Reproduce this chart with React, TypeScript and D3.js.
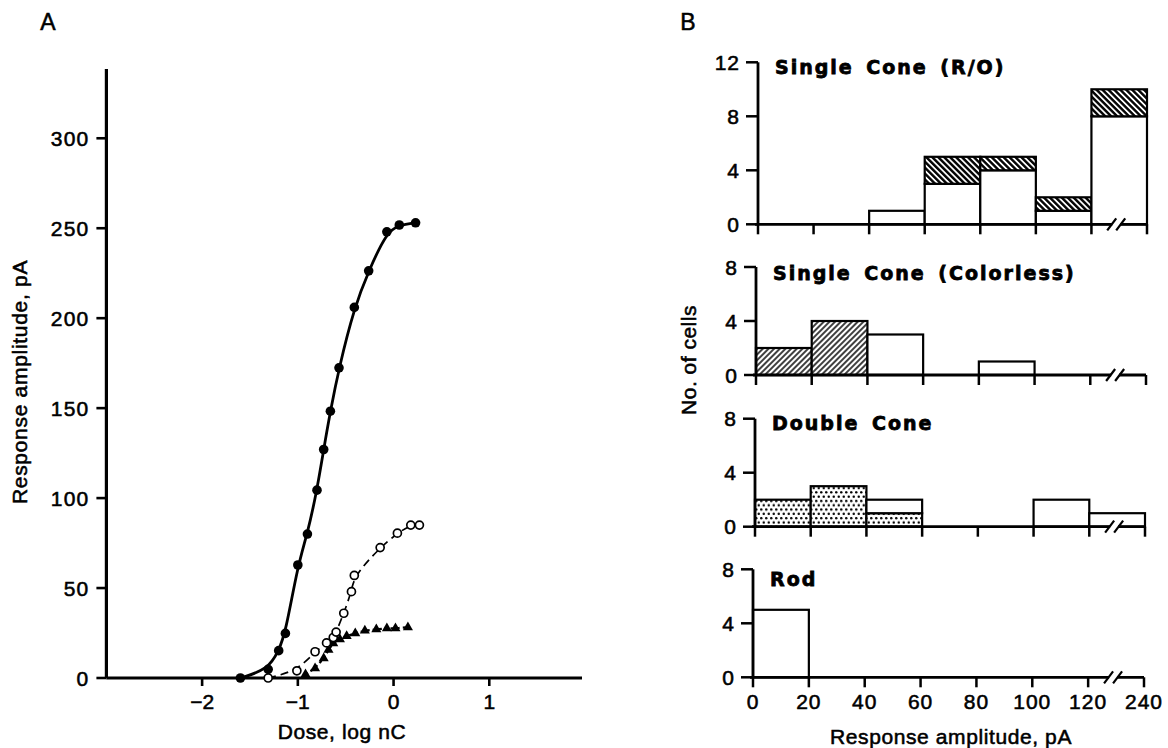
import * as d3 from 'd3'

// Panel A: dose-response points (log nC, pA)
const filledDose = [-1.6, -1.31, -1.2, -1.13, -1.0, -0.9, -0.8, -0.73, -0.66, -0.57, -0.41, -0.26, -0.07, 0.06, 0.23]
const filledResp = [0, 4.8, 15.2, 24.8, 62.8, 80, 104.4, 127, 148.3, 172.4, 206, 226.3, 248, 251.8, 253]
const openDose = [-1.31, -1.01, -0.82, -0.7, -0.63, -0.6, -0.52, -0.44, -0.41, -0.14, 0.04, 0.18, 0.27]
const openResp = [0, 4, 14.6, 19.5, 22.5, 25.5, 36, 48, 57, 72.5, 80.5, 85, 85]
const triDose = [-0.92, -0.82, -0.73, -0.68, -0.63, -0.56, -0.49, -0.4, -0.3, -0.18, -0.07, 0.02, 0.15]
const triResp = [2, 5.4, 10.9, 15.6, 19.3, 21.5, 23.3, 24.8, 26.3, 27, 27.6, 27.6, 28.2]
const doseTicks = [-2, -1, 0, 1]
const respTicks = [0, 50, 100, 150, 200, 250, 300]

// Panel B: histograms, bins 0-20 ... 120-240
const binLabels = ['0', '20', '40', '60', '80', '100', '120', '240']
const roOpen = [0, 0, 1, 3, 4, 1, 8]
const roHatched = [0, 0, 0, 2, 1, 1, 2]
const colorlessHatched = [2, 4, 0, 0, 0, 0, 0]
const colorlessOpen = [0, 0, 3, 0, 1, 0, 0]
const doubleDotted = [2, 3, 1, 0, 0, 0, 0]
const doubleOpen = [0, 0, 1, 0, 0, 2, 1]
const rodOpen = [5, 0, 0, 0, 0, 0, 0]

const SANS = 'Liberation Sans, Arial, Helvetica, sans-serif'
const BOLD = 'DejaVu Sans, Verdana, sans-serif'
// scanned print looks a bit heavier than plain regular
const ink = {stroke: '#000', strokeWidth: 0.55}

const panels = [
  {title: 'Single Cone (R/O)', layers: [{v: roOpen, fill: '#fff'}, {v: roHatched, fill: 'url(#hatchBack)'}],
    yMax: 12, yTicks: [0, 4, 8, 12], base: 224.3, x0: 758, x1: 1147, ty: 67},
  {title: 'Single Cone (Colorless)', layers: [{v: colorlessHatched, fill: 'url(#hatchFwd)'}, {v: colorlessOpen, fill: '#fff'}],
    yMax: 8, yTicks: [0, 4, 8], base: 375, x0: 756, x1: 1146, ty: 273},
  {title: 'Double Cone', layers: [{v: doubleDotted, fill: 'url(#dots)'}, {v: doubleOpen, fill: '#fff'}],
    yMax: 8, yTicks: [0, 4, 8], base: 526.7, x0: 755, x1: 1145, ty: 423},
  {title: 'Rod', layers: [{v: rodOpen, fill: '#fff'}],
    yMax: 8, yTicks: [0, 4, 8], base: 677.3, x0: 753, x1: 1144, ty: 579},
]

const PanelA = () => {
  const x = d3.scaleLinear().domain([-3, 2]).range([106.4, 585])
  const y = d3.scaleLinear().domain([0, 338.5]).range([678, 69])

  const path = (xs: number[], ys: number[]) =>
    d3.line<number>()
      .x((i) => x(xs[i]))
      .y((i) => y(ys[i]))
      .curve(d3.curveBasis)(xs.map((_, i) => i))

  const tri = d3.symbol().type(d3.symbolTriangle).size(44)()
  const x0 = x(-3)

  return (
    <g>
      <text x={48} y={22} fontSize={23} fontFamily={SANS} textAnchor="middle" dominantBaseline="central" {...ink}>A</text>
      {/* axes */}
      <line x1={x0} x2={x0} y1={y(0)} y2={y(338.5)} stroke="#000" strokeWidth={3.2}/>
      <line x1={x0} x2={582} y1={y(0)} y2={y(0)} stroke="#000" strokeWidth={3.2}/>
      {respTicks.map((t) => (
        <g key={t}>
          <line x1={x0 - 10} x2={x0} y1={y(t)} y2={y(t)} stroke="#000" strokeWidth={2.6}/>
          <text x={x0 - 17} y={y(t)} fontSize={21} letterSpacing={1.2} fontFamily={SANS} textAnchor="end"
                dominantBaseline="central" {...ink}>{t}</text>
        </g>
      ))}
      {doseTicks.map((t) => (
        <g key={t}>
          <line x1={x(t)} x2={x(t)} y1={y(0)} y2={y(0) + 8} stroke="#000" strokeWidth={2.6}/>
          <text x={x(t)} y={701} fontSize={21} fontFamily={SANS} textAnchor="middle"
                dominantBaseline="central" {...ink}>{t < 0 ? '\u2212' + Math.abs(t) : t}</text>
        </g>
      ))}
      <text x={342} y={731} fontSize={21} letterSpacing={0.6} fontFamily={SANS} textAnchor="middle"
            dominantBaseline="central" {...ink}>Dose, log nC</text>
      <text transform="translate(19,382) rotate(-90)" fontSize={21} letterSpacing={0.7} fontFamily={SANS}
            textAnchor="middle" dominantBaseline="central" {...ink}>Response amplitude, pA</text>

      {/* curves */}
      <path d={path(filledDose, filledResp) || ''} fill="none" stroke="#000" strokeWidth={2.8}/>
      <path d={path(openDose, openResp) || ''} fill="none" stroke="#000" strokeWidth={1.7} strokeDasharray="8 5"/>
      <path d={path(triDose, triResp) || ''} fill="none" stroke="#000" strokeWidth={2.2} strokeDasharray="3 3"/>

      {filledDose.map((d, i) => (
        <circle key={'f' + i} cx={x(d)} cy={y(filledResp[i])} r={4.8} fill="#000"/>
      ))}
      {triDose.map((d, i) => (
        <path key={'t' + i} d={tri || ''} transform={`translate(${x(d)},${y(triResp[i])})`} fill="#000"/>
      ))}
      {openDose.map((d, i) => (
        <circle key={'o' + i} cx={x(d)} cy={y(openResp[i])} r={4} fill="#fff" stroke="#000" strokeWidth={1.7}/>
      ))}
    </g>
  )
}

const Histogram = ({p, last}: {p: typeof panels[number], last: boolean}) => {
  const x = d3.scaleLinear().domain([0, binLabels.length - 1]).range([p.x0, p.x1])
  const y = d3.scaleLinear().domain([0, 8]).range([p.base, p.base - 108])
  const bins = d3.range(binLabels.length - 1)
  const bx = (x(6) + x(7)) / 2 - 3

  return (
    <g>
      {bins.map((i) => {
        let cum = 0
        return p.layers.map((l, j) => {
          const v = l.v[i]
          if (!v) return null
          const r = <rect key={i + '-' + j} x={x(i)} y={y(cum + v)} width={x(i + 1) - x(i)} height={y(cum) - y(cum + v)}
                          fill={l.fill} stroke="#000" strokeWidth={2.2}/>
          cum += v
          return r
        })
      })}
      {/* axes */}
      <line x1={p.x0} x2={p.x0} y1={p.base} y2={y(p.yMax)} stroke="#000" strokeWidth={2.8}/>
      <line x1={p.x0 - 3} x2={p.x1} y1={p.base} y2={p.base} stroke="#000" strokeWidth={2.8}/>
      {p.yTicks.map((t) => (
        <g key={t}>
          <line x1={p.x0 - 12} x2={p.x0} y1={y(t)} y2={y(t)} stroke="#000" strokeWidth={2.5}/>
          <text x={p.x0 - 18} y={y(t)} fontSize={21} letterSpacing={1} fontFamily={SANS} textAnchor="end"
                dominantBaseline="central" {...ink}>{t}</text>
        </g>
      ))}
      {binLabels.map((b, i) => (
        <g key={b}>
          <line x1={x(i)} x2={x(i)} y1={p.base} y2={p.base + 10} stroke="#000" strokeWidth={2.5}/>
          {last && <text x={x(i)} y={701} fontSize={21} letterSpacing={1} fontFamily={SANS} textAnchor="middle"
                         dominantBaseline="central" {...ink}>{b}</text>}
        </g>
      ))}
      {/* axis break */}
      <rect x={bx - 4} y={p.base - 3} width={8} height={6} fill="#fff"/>
      <line x1={bx - 9} x2={bx} y1={p.base + 6} y2={p.base - 6} stroke="#000" strokeWidth={2.2}/>
      <line x1={bx} x2={bx + 9} y1={p.base + 6} y2={p.base - 6} stroke="#000" strokeWidth={2.2}/>

      <text x={p.x0 + 17} y={p.ty} fontSize={19} fontWeight="bold" letterSpacing={2} wordSpacing={4}
            fontFamily={BOLD} dominantBaseline="central" stroke="#000" strokeWidth={0.8}>{p.title}</text>
    </g>
  )
}

const App = () => {
  return (
    <svg width={1168} height={748} viewBox="0 0 1168 748"
         style={{position: 'absolute', left: 0, top: 0, background: '#fff'}}>
      <defs>
        <pattern id="hatchBack" patternUnits="userSpaceOnUse" width={4.2} height={4.2} patternTransform="rotate(-45)">
          <rect width={4.2} height={4.2} fill="#fff"/>
          <line x1={2.1} x2={2.1} y1={0} y2={4.2} stroke="#000" strokeWidth={2.4}/>
        </pattern>
        <pattern id="hatchFwd" patternUnits="userSpaceOnUse" width={4} height={4} patternTransform="rotate(45)">
          <rect width={4} height={4} fill="#fff"/>
          <line x1={2} x2={2} y1={0} y2={4} stroke="#000" strokeWidth={1.5}/>
        </pattern>
        <pattern id="dots" patternUnits="userSpaceOnUse" width={5} height={8.6}>
          <rect width={5} height={8.6} fill="#fff"/>
          <circle cx={1.25} cy={2.15} r={1.25} fill="#000"/>
          <circle cx={3.75} cy={6.45} r={1.25} fill="#000"/>
        </pattern>
      </defs>
      <rect width={1168} height={748} fill="#fff"/>
      <PanelA/>
      <text x={688} y={22} fontSize={23} fontFamily={SANS} textAnchor="middle" dominantBaseline="central" {...ink}>B</text>
      {panels.map((p, i) => <Histogram key={p.title} p={p} last={i === panels.length - 1}/>)}
      <text x={951} y={736} fontSize={21} letterSpacing={0.6} fontFamily={SANS} textAnchor="middle"
            dominantBaseline="central" {...ink}>Response amplitude, pA</text>
      <text transform="translate(688,360) rotate(-90)" fontSize={21} letterSpacing={0.5} fontFamily={SANS}
            textAnchor="middle" dominantBaseline="central" {...ink}>No. of cells</text>
    </svg>
  )
}

export default App
